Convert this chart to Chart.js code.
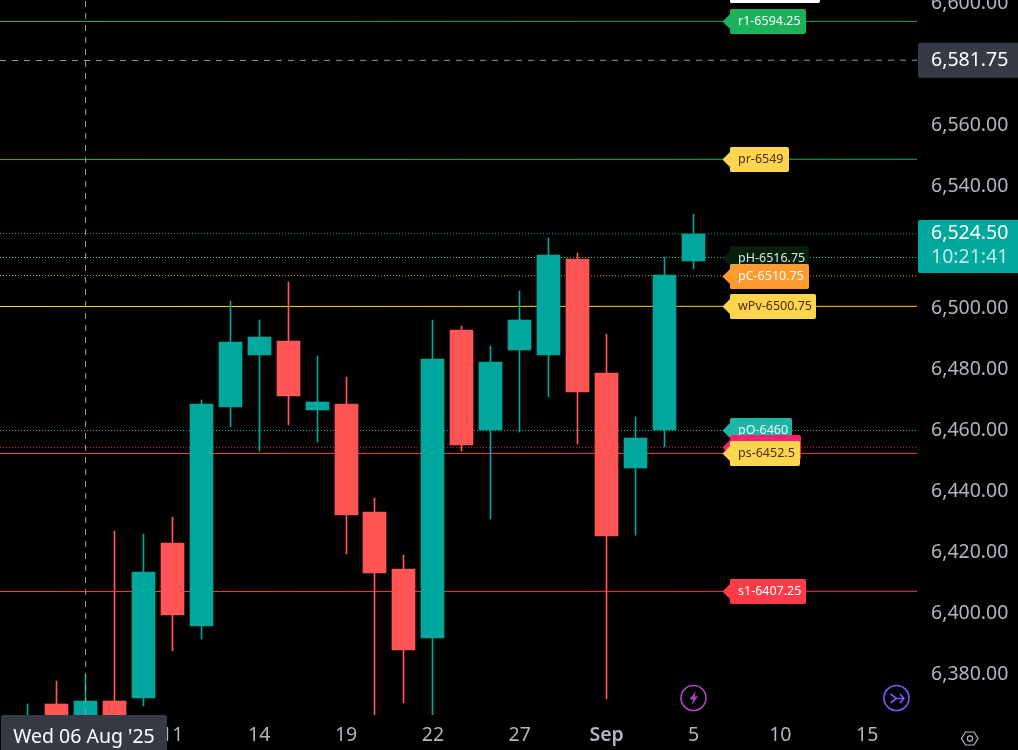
<!DOCTYPE html>
<html>
<head>
<meta charset="utf-8">
<title>ES daily</title>
<script src="https://cdn.jsdelivr.net/npm/chart.js@4/dist/chart.umd.min.js"></script>
<style>
html, body { margin: 0; padding: 0; background: #000; overflow: hidden; }
canvas { display: block; }
</style>
</head>
<body>
<canvas id="chart" width="1018" height="750"></canvas>
<script>
// candles, one entry per trading day, first is Mon 4 Aug
let opens  = [6360, 6370.25, 6360, 6371.25, 6372.25, 6423, 6396, 6467.75, 6484.75, 6489.5, 6466.75, 6468.75, 6433.25, 6414.5, 6392, 6493, 6460.25, 6486.5, 6484.75, 6516.25, 6479, 6447.75, 6460, 6515.5];
let highs  = [6370.25, 6377.75, 6379.75, 6427, 6426, 6431.5, 6470, 6502.5, 6496.25, 6508.75, 6484.5, 6477.5, 6438, 6419.25, 6496.25, 6494.25, 6487.75, 6505.75, 6523.25, 6518.25, 6491.75, 6464.5, 6517, 6531];
let lows   = [6358, 6358, 6358, 6358, 6369.75, 6387.75, 6391.75, 6461.25, 6453.25, 6461.75, 6456.25, 6419.5, 6366.75, 6370.75, 6366.75, 6453.25, 6431, 6459.5, 6471, 6455.5, 6372, 6425.75, 6454.5, 6513];
let closes = [6365, 6360, 6371.25, 6360, 6413.5, 6399.5, 6468.75, 6489, 6490.75, 6471.25, 6469.5, 6432.25, 6413.25, 6388, 6483.5, 6455.25, 6482.5, 6496.25, 6517.5, 6472.5, 6425.5, 6457.5, 6511, 6524.5];

// x axis labels and which candle slot they sit under
let dateTicks  = [5, 8, 11, 14, 17, 20, 23, 26, 29];
let dateLabels = ['11', '14', '19', '22', '27', 'Sep', '5', '10', '15'];

// levels the indicator draws
let levelNames  = ['', 'r1-6594.25', 'pr-6549', 'pH-6516.75', 'pC-6510.75', 'wPv-6500.75', 'pO-6460', '', 'ps-6452.5', 's1-6407.25'];
let levelValues = [6604.5, 6594.25, 6549, 6516.75, 6510.75, 6500.75, 6460, 6454.5, 6452.5, 6407.25];
let levelLines  = ['#ffffff', '#22ab5e', '#22ab5e', '#1fd47c', '#e8892b', '#ffc93c', '#1db5a5', '#d81b60', '#f23f4f', '#f23f4f'];
let levelFills  = ['#ffffff', '#1cb25c', '#ffd54f', '#06200f', '#ff9a2e', '#ffd54f', '#1fb5a5', '#f9206f', '#ffd54f', '#ff3b4a'];
let levelInks   = ['#000000', '#ffffff', '#4e2a00', '#d8e6dc', '#ffffff', '#4e2a00', '#e8f8f5', '#ffffff', '#4e2a00', '#ffffff'];
let levelRights = [820, 806, 789, 809, 809, 816, 792, 801, 800, 806];
let levelDots   = [false, false, false, true, true, false, true, true, false, false];

let lastPrice = 6524.5;
let cursorPrice = 6581.5;
let cursorLabel = 6581.75;
let cursorSlot = 2;

let xMin = -0.9516;
let xMax = 30.72;

let up = '#00a79d';
let down = '#ff5555';
let textFont = '"Noto Sans", sans-serif';

function money(v) {
    return v.toLocaleString('en-US', { minimumFractionDigits: 2, maximumFractionDigits: 2 });
}

let wickData = [];
let bodyData = [];
let candleColors = [];
for (let i = 0; i < opens.length; i++) {
    wickData.push({ x: i, y: [lows[i], highs[i]] });
    bodyData.push({ x: i, y: [opens[i], closes[i]] });
    candleColors.push(closes[i] >= opens[i] ? up : down);
}

let levelSets = levelValues.map(function (v, i) {
    return {
        type: 'line',
        data: [{ x: xMin, y: v }, { x: xMax, y: v }],
        borderColor: levelLines[i],
        borderWidth: 1,
        borderDash: levelDots[i] ? [1, 2] : [],
        pointRadius: 0,
        order: 5
    };
});

// dotted line at the last price, dashed one at the cursor
levelSets.push({ type: 'line', data: [{ x: xMin, y: lastPrice }, { x: xMax, y: lastPrice }], borderColor: '#00a79d', borderWidth: 1, borderDash: [1, 2], pointRadius: 0, order: 5 });
levelSets.push({ type: 'line', data: [{ x: xMin, y: cursorPrice }, { x: xMax, y: cursorPrice }], borderColor: '#9598a1', borderWidth: 1, borderDash: [6, 6], pointRadius: 0, order: 5 });
levelSets.push({ type: 'line', data: [{ x: cursorSlot, y: 6366.65 }, { x: cursorSlot, y: 6601.25 }], borderColor: '#9598a1', borderWidth: 1, borderDash: [6, 6], pointRadius: 0, order: 0 });

// snap candles and level lines to whole pixels so they stay sharp
let snapBars = {
    id: 'snapBars',
    afterDatasetsUpdate(chart) {
        chart.data.datasets.forEach(function (ds, n) {
            let els = chart.getDatasetMeta(n).data;
            if (ds.type === 'line') {
                els.forEach(function (el) {
                    if (els[0].y === els[1].y) el.y = Math.floor(el.y) + 0.5;
                    else el.x = Math.floor(el.x) + 0.5;
                });
                return;
            }
            els.forEach(function (el) {
                el.x = Math.floor(el.x) + 0.5;
                el.y = Math.round(el.y);
                el.base = Math.round(el.base);
            });
        });
    }
};

function box(ctx, x, y, w, h, r) {
    ctx.beginPath();
    ctx.roundRect(x, y, w, h, r);
    ctx.fill();
}

function drawTag(ctx, yp, fill, ink, right, text) {
    let left = 730, tip = 722.5, half = 12.5;
    ctx.fillStyle = fill;
    ctx.beginPath();
    ctx.moveTo(tip, yp);
    ctx.lineTo(left, yp - 7.5);
    ctx.lineTo(left, yp - half + 1.5);
    ctx.quadraticCurveTo(left, yp - half, left + 1.5, yp - half);
    ctx.lineTo(right - 2, yp - half);
    ctx.quadraticCurveTo(right, yp - half, right, yp - half + 2);
    ctx.lineTo(right, yp + half - 2);
    ctx.quadraticCurveTo(right, yp + half, right - 2, yp + half);
    ctx.lineTo(left + 1.5, yp + half);
    ctx.quadraticCurveTo(left, yp + half, left, yp + half - 1.5);
    ctx.lineTo(left, yp + 7.5);
    ctx.closePath();
    ctx.fill();
    if (text) {
        ctx.fillStyle = ink;
        ctx.font = '12.5px ' + textFont;
        ctx.textAlign = 'left';
        ctx.textBaseline = 'middle';
        ctx.fillText(text, 738, yp);
    }
}

let overlay = {
    id: 'overlay',
    afterDraw(chart) {
        let ctx = chart.ctx;
        let ys = chart.scales.y;
        ctx.save();

        levelValues.forEach(function (v, i) {
            drawTag(ctx, Math.round(ys.getPixelForValue(v)) + 0.5, levelFills[i], levelInks[i], levelRights[i], levelNames[i]);
        });

        // cursor price box
        let cy = ys.getPixelForValue(cursorPrice);
        ctx.fillStyle = '#363a45';
        box(ctx, 918, cy - 17.5, 100, 35, [2, 0, 0, 2]);
        ctx.fillStyle = '#ffffff';
        ctx.font = '19.5px ' + textFont;
        ctx.textAlign = 'left';
        ctx.textBaseline = 'middle';
        ctx.fillText(money(cursorLabel), 931, cy);

        // last price box with the countdown
        ctx.fillStyle = '#00a79d';
        box(ctx, 918, 220, 100, 53, [2, 0, 0, 2]);
        ctx.fillStyle = '#ffffff';
        ctx.fillText(money(lastPrice), 931, 233);
        ctx.fillStyle = '#bfe9e6';
        ctx.fillText('10:21:41', 931, 257);

        // cursor date box
        ctx.fillStyle = '#363a45';
        box(ctx, 1, 715, 166, 35, [2, 2, 0, 0]);
        ctx.fillStyle = '#ffffff';
        ctx.textAlign = 'center';
        ctx.fillText("Wed 06 Aug '25", 84, 737);

        // lightning icon
        ctx.lineWidth = 1.6;
        ctx.strokeStyle = '#ab47bc';
        ctx.fillStyle = '#ab47bc';
        ctx.beginPath();
        ctx.arc(693.5, 698, 12.5, 0, Math.PI * 2);
        ctx.stroke();
        ctx.beginPath();
        ctx.moveTo(696, 691);
        ctx.lineTo(689.5, 699.5);
        ctx.lineTo(693, 699.5);
        ctx.lineTo(691.5, 705);
        ctx.lineTo(698, 696.5);
        ctx.lineTo(694.5, 696.5);
        ctx.closePath();
        ctx.fill();

        // forward icon
        ctx.strokeStyle = '#7e57ff';
        ctx.beginPath();
        ctx.arc(896.5, 698, 12.5, 0, Math.PI * 2);
        ctx.stroke();
        ctx.beginPath();
        ctx.moveTo(890.5, 694);
        ctx.lineTo(896.5, 698.5);
        ctx.lineTo(890.5, 703);
        ctx.moveTo(896.5, 698.5);
        ctx.lineTo(904, 698.5);
        ctx.moveTo(900, 694);
        ctx.lineTo(904, 698.5);
        ctx.lineTo(900, 703);
        ctx.stroke();

        // settings hexagon
        ctx.strokeStyle = '#b2b5be';
        ctx.lineWidth = 1.2;
        ctx.beginPath();
        ctx.moveTo(961.5, 738.5);
        ctx.lineTo(965.5, 732);
        ctx.lineTo(974, 732);
        ctx.lineTo(978, 738.5);
        ctx.lineTo(974, 745);
        ctx.lineTo(965.5, 745);
        ctx.closePath();
        ctx.stroke();
        ctx.beginPath();
        ctx.arc(970, 738.5, 2.6, 0, Math.PI * 2);
        ctx.stroke();

        ctx.restore();
    }
};

// the plot runs right up to the canvas edges, labels may overflow like the original
function noPadding(scale) {
    scale.paddingLeft = 0;
    scale.paddingRight = 0;
    scale.paddingTop = 0;
    scale.paddingBottom = 0;
}

let chart = new Chart(document.querySelector('#chart').getContext('2d'), {
    type: 'bar',
    data: {
        datasets: [{
            data: wickData,
            backgroundColor: candleColors,
            barThickness: 1,
            grouped: false,
            order: 2
        }, {
            data: bodyData,
            backgroundColor: candleColors,
            barThickness: 23,
            grouped: false,
            order: 1
        }].concat(levelSets)
    },
    options: {
        responsive: false,
        animation: false,
        events: [],
        layout: { padding: 0 },
        plugins: { legend: { display: false }, tooltip: { enabled: false } },
        scales: {
            x: {
                type: 'linear',
                offset: false,
                min: xMin,
                max: xMax,
                grid: { display: false, drawTicks: false, offset: false },
                border: { display: false },
                afterBuildTicks(scale) {
                    scale.ticks = dateTicks.map(function (v) { return { value: v }; });
                },
                afterFit(scale) {
                    scale.height = 35;
                    noPadding(scale);
                },
                ticks: {
                    autoSkip: false,
                    maxRotation: 0,
                    padding: 9,
                    color: '#b2b5be',
                    font: function (c) {
                        return { family: textFont, size: 19.5, weight: dateLabels[c.index] === 'Sep' ? '600' : 'normal' };
                    },
                    callback: function (v) { return dateLabels[dateTicks.indexOf(v)]; }
                }
            },
            y: {
                position: 'right',
                min: 6366.65,
                max: 6601.25,
                grid: { display: false, drawTicks: false },
                border: { display: false },
                afterFit(scale) {
                    scale.width = 101;
                    noPadding(scale);
                },
                ticks: {
                    stepSize: 20,
                    includeBounds: false,
                    padding: 14,
                    color: '#b2b5be',
                    font: { family: textFont, size: 19.5 },
                    callback: function (v) { return money(v); }
                }
            }
        }
    },
    plugins: [snapBars, overlay]
});
</script>
</body>
</html>
